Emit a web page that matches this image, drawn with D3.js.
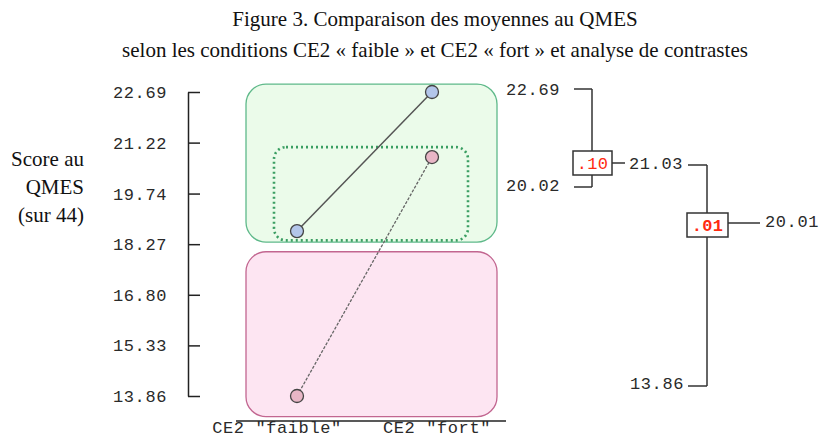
<!DOCTYPE html>
<html>
<head>
<meta charset="utf-8">
<script src="https://cdn.jsdelivr.net/npm/d3@7"></script>
<style>
  body { margin: 0; background: #fff; }
  .mono { font-family: "Liberation Mono", "Courier New", monospace; font-size: 17px; letter-spacing: 0.6px; fill: #2a2a2a; }
  .serif { font-family: "Liberation Serif", "Times New Roman", serif; fill: #111; }
</style>
</head>
<body>
<svg id="chart" width="820" height="437"></svg>
<script>
// data
var conditions = ['CE2 "faible"', 'CE2 "fort"'];
var tickValues = [13.86, 15.33, 16.80, 18.27, 19.74, 21.22, 22.69];
var seriesBlue = [18.65, 22.69];
var seriesPink = [13.86, 20.80];
var titleLines = ['Figure 3. Comparaison des moyennes au QMES',
                  'selon les conditions CE2 \u00ab faible \u00bb et CE2 \u00ab fort \u00bb et analyse de contrastes'];
var yLabelLines = ['Score au', 'QMES', '(sur 44)'];
// contrast tree: two comparisons
var contrastLabels = ['22.69', '20.02', '21.03', '20.01', '13.86'];
var contrastP = ['.10', '.01'];

var svg = d3.select('#chart');

var y = d3.scaleLinear().domain([13.86, 22.69]).range([396, 92]);
var x = d3.scalePoint().domain(conditions).range([297, 432]);

// title
svg.selectAll('.title').data(titleLines).enter().append('text')
  .attr('class', 'serif')
  .attr('x', 435).attr('y', function(d, i) { return 26 + i * 31; })
  .attr('text-anchor', 'middle')
  .style('font-size', '21px')
  .text(function(d) { return d; });

// y label
svg.selectAll('.ylab').data(yLabelLines).enter().append('text')
  .attr('class', 'serif')
  .attr('x', 84).attr('y', function(d, i) { return 166 + i * 28; })
  .attr('text-anchor', 'end')
  .style('font-size', '21px')
  .text(function(d) { return d; });

// group boxes (in data units)
var boxes = [
  {x0: 246, x1: 497, top: 22.92, bottom: 18.33, r: 20, fill: '#ebfbea', stroke: '#5fb98a', dash: null, w: 1.3},
  {x0: 246, x1: 497, top: 18.05, bottom: 13.26, r: 20, fill: '#fde5f2', stroke: '#c26690', dash: null, w: 1.3},
  {x0: 274, x1: 468, top: 21.09, bottom: 18.38, r: 12, fill: 'none', stroke: '#3a9e62', dash: '2,3', w: 2.6}
];
svg.selectAll('.box').data(boxes).enter().append('rect')
  .attr('x', function(d) { return d.x0; })
  .attr('y', function(d) { return y(d.top); })
  .attr('width', function(d) { return d.x1 - d.x0; })
  .attr('height', function(d) { return y(d.bottom) - y(d.top); })
  .attr('rx', function(d) { return d.r; })
  .attr('fill', function(d) { return d.fill; })
  .attr('stroke', function(d) { return d.stroke; })
  .attr('stroke-width', function(d) { return d.w; })
  .attr('stroke-dasharray', function(d) { return d.dash; });

// y axis
var yAxis = d3.axisLeft(y).tickValues(tickValues).tickFormat(d3.format('.2f'))
  .tickSizeInner(-12).tickSizeOuter(0).tickPadding(21);
var gy = svg.append('g').attr('transform', 'translate(188,0)').call(yAxis);
gy.selectAll('path, line').attr('stroke', '#222').attr('stroke-width', 1.5);
gy.selectAll('text').attr('class', 'mono').attr('dy', '0.32em').style('font-size', null);
gy.attr('font-family', null).attr('font-size', null);

// x axis line + labels
svg.append('line').attr('x1', 236).attr('x2', 506).attr('y1', 421).attr('y2', 421)
  .attr('stroke', '#222').attr('stroke-width', 1.5);
var labelShift = [-20, 5];
svg.selectAll('.xlab').data(conditions).enter().append('text')
  .attr('class', 'mono')
  .attr('x', function(d, i) { return x(d) + labelShift[i]; })
  .attr('y', 433)
  .attr('text-anchor', 'middle')
  .text(function(d) { return d; });

// lines
var line = d3.line().x(function(d, i) { return x(conditions[i]); }).y(function(d) { return y(d); });
svg.append('path').datum(seriesBlue).attr('d', line)
  .attr('fill', 'none').attr('stroke', '#555').attr('stroke-width', 1.5);
svg.append('path').datum(seriesPink).attr('d', line)
  .attr('fill', 'none').attr('stroke', '#666').attr('stroke-width', 1.3).attr('stroke-dasharray', '3,1.5');

// points
[[seriesBlue, '#b3c6ea'], [seriesPink, '#e8b6c6']].forEach(function(s) {
  svg.selectAll(null).data(s[0]).enter().append('circle')
    .attr('cx', function(d, i) { return x(conditions[i]); })
    .attr('cy', function(d) { return y(d); })
    .attr('r', 6.5)
    .attr('fill', s[1]).attr('stroke', '#444').attr('stroke-width', 1.3);
});

// contrast tree
var tree = svg.append('g');
var ink = '#333';
function seg(x1, y1, x2, y2) {
  tree.append('line').attr('x1', x1).attr('y1', y1).attr('x2', x2).attr('y2', y2)
    .attr('stroke', ink).attr('stroke-width', 1.5);
}
function label(txt, x0, y0) {
  tree.append('text').attr('class', 'mono').attr('x', x0).attr('y', y0).attr('dy', '0.32em').text(txt);
}
function pbox(txt, x0, y0, w, h, bold) {
  tree.append('rect').attr('x', x0).attr('y', y0).attr('width', w).attr('height', h)
    .attr('fill', '#fff').attr('stroke', ink).attr('stroke-width', 1.5);
  tree.append('text').attr('class', 'mono').attr('x', x0 + w / 2).attr('y', y0 + h / 2).attr('dy', '0.35em')
    .attr('text-anchor', 'middle').style('fill', '#ff2a10').style('font-weight', bold ? 'bold' : 'normal')
    .style('letter-spacing', '0.3px').text(txt);
}
// first contrast
label(contrastLabels[0], 506, 90);
label(contrastLabels[1], 506, 186);
seg(574, 89, 592, 89); seg(592, 89, 592, 151);
seg(592, 175, 592, 187); seg(592, 187, 574, 187);
pbox(contrastP[0], 573, 151, 39, 24, false);
seg(612, 163, 625, 163);
label(contrastLabels[2], 629, 164);
// second contrast
seg(688, 165, 707, 165); seg(707, 165, 707, 213);
pbox(contrastP[1], 687, 213, 41, 24, true);
seg(728, 223, 760, 223);
label(contrastLabels[3], 765, 222);
seg(707, 237, 707, 386); seg(707, 386, 688, 386);
label(contrastLabels[4], 630, 384);
</script>
</body>
</html>
